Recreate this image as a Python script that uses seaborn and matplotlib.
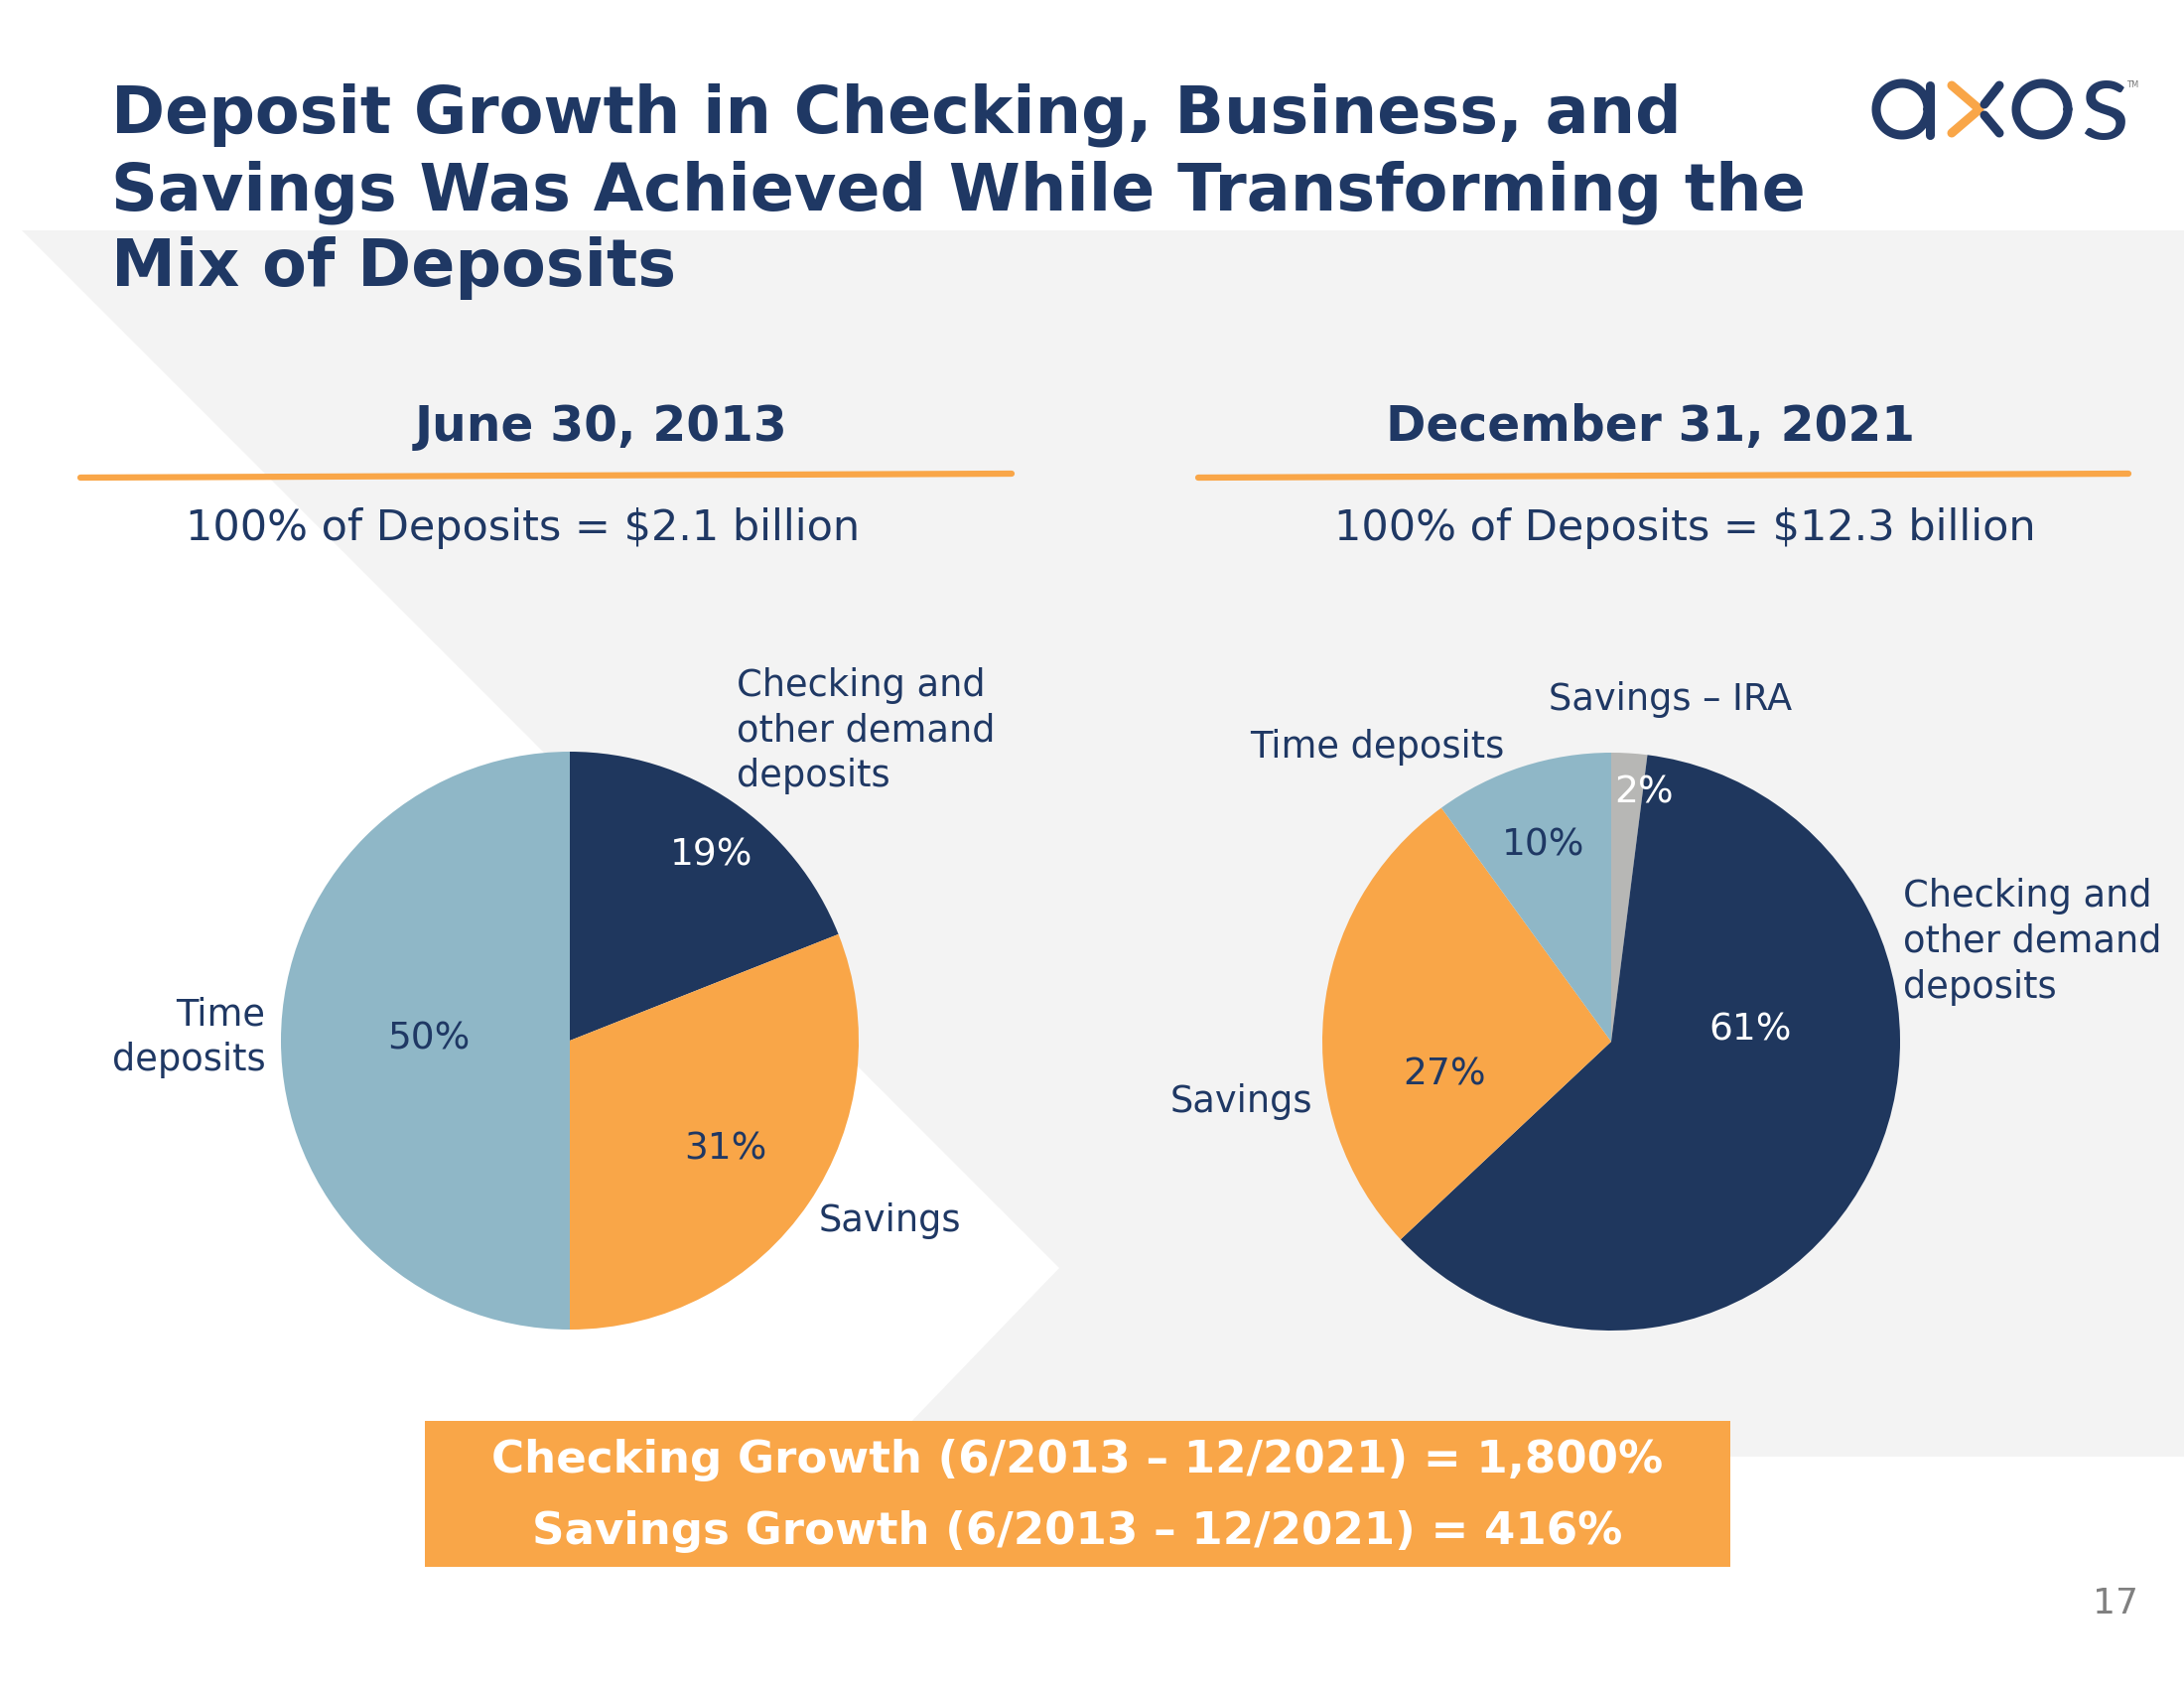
import matplotlib
matplotlib.use("Agg")
import matplotlib.pyplot as plt
import seaborn as sns
import numpy as np
from matplotlib.patches import Polygon, Rectangle
from matplotlib.lines import Line2D

sns.set_theme(style="white")
plt.rcParams['font.family'] = ['DejaVu Sans']

# ---------------- data ----------------
title = "Deposit Growth in Checking, Business, and\nSavings Was Achieved While Transforming the\nMix of Deposits"
left_header = "June 30, 2013"
right_header = "December 31, 2021"
left_total = "100% of Deposits = $2.1 billion"
right_total = "100% of Deposits = $12.3 billion"

left_categories = ["Checking and\nother demand\ndeposits", "Savings", "Time\ndeposits"]
left_values = [19, 31, 50]
right_categories = ["Savings – IRA", "Checking and\nother demand\ndeposits", "Savings", "Time deposits"]
right_values = [2, 61, 27, 10]
growth_lines = ["Checking Growth (6/2013 – 12/2021) = 1,800%",
                "Savings Growth (6/2013 – 12/2021) = 416%"]
page_number = "17"

# ---------------- style ----------------
NAVY = "#1F375E"
TEXT = "#1F3864"
ORANGE = "#F9A648"
LBLUE = "#8FB7C7"
GRAY = "#B7B7B5"
BG = "#F3F3F3"

left_colors = [NAVY, ORANGE, LBLUE]
right_colors = [GRAY, NAVY, ORANGE, LBLUE]
left_pct_colors = ["white", TEXT, TEXT]
right_pct_colors = ["white", "white", TEXT, TEXT]

# label placement (in units of pie radius) : (x, y, ha)
left_label_pos = [(0.577, 1.072, "left"), (0.861, -0.625, "left"), (-1.053, 0.01, "right")]
left_pct_pos = [(0.49, 0.64), (0.538, -0.375), (-0.49, 0.005)]
right_label_pos = [(-0.216, 1.183, "left"), (1.01, 0.346, "left"), (-1.034, -0.207, "right"), (-0.37, 1.019, "right")]
right_pct_pos = [(0.115, 0.861), (0.481, 0.038), (-0.577, -0.115), (-0.236, 0.678)]

W, H = 2200, 1700
fig = plt.figure(figsize=(22, 17), dpi=100)
fig.patch.set_facecolor("white")


def fx(x):
    return x / W


def fy(y):
    return 1 - y / H


# background shape
bg = Polygon([(fx(22), fy(232)), (fx(2200), fy(232)), (fx(2200), fy(1467)),
              (fx(884), fy(1467)), (fx(1067), fy(1277))],
             closed=True, transform=fig.transFigure, facecolor=BG, edgecolor="none", zorder=-5)
fig.add_artist(bg)

# title
fig.text(fx(112), fy(84), title, ha="left", va="top", fontsize=47, fontweight="bold",
         color=TEXT, linespacing=1.25)

# logo
logo_color = "#233A66"
lw_logo = 6.5
th = np.linspace(0, 2 * np.pi, 200)
for cx in (1916, 2057):
    fig.add_artist(Line2D(fx(cx + 26 * np.cos(th)), fy(110 + 26 * np.sin(th)),
                          color=logo_color, lw=lw_logo, transform=fig.transFigure))
fig.add_artist(Line2D([fx(1944), fx(1944)], [fy(86), fy(136)], color=logo_color, lw=lw_logo,
                      solid_capstyle="round", transform=fig.transFigure))
fig.add_artist(Line2D([fx(1966), fx(1994), fx(1966)], [fy(86), fy(110), fy(134)], color=ORANGE,
                      lw=lw_logo, solid_capstyle="round", transform=fig.transFigure))
fig.add_artist(Line2D([fx(2014), fx(1999)], [fy(86), fy(105)], color=logo_color, lw=lw_logo,
                      solid_capstyle="round", transform=fig.transFigure))
fig.add_artist(Line2D([fx(1999), fx(2014)], [fy(116), fy(134)], color=logo_color, lw=lw_logo,
                      solid_capstyle="round", transform=fig.transFigure))
fig.text(fx(2120), fy(108), "s", ha="center", va="center", fontsize=82, color=logo_color,
         family="Lato")
fig.text(fx(2142), fy(86), "TM", ha="left", va="center", fontsize=6, color="#777777")

# headers
for cx, txt in ((606, left_header), (1662, right_header)):
    fig.text(fx(cx), fy(430), txt, ha="center", va="center", fontsize=35, fontweight="bold", color=TEXT)
fig.add_artist(Line2D([fx(81), fx(1019)], [fy(481), fy(477)], color=ORANGE, lw=4.5,
                      transform=fig.transFigure))
fig.add_artist(Line2D([fx(1207), fx(2144)], [fy(481), fy(477)], color=ORANGE, lw=4.5,
                      transform=fig.transFigure))
fig.text(fx(527), fy(532), left_total, ha="center", va="center", fontsize=31, color=TEXT)
fig.text(fx(1697), fy(532), right_total, ha="center", va="center", fontsize=31, color=TEXT)

R = 291
S = 1.25
LABEL_FS = 26.5
PCT_FS = 27


def make_ax(cx, cy):
    half = R * S
    ax = fig.add_axes([fx(cx - half), fy(cy + half), 2 * half / W, 2 * half / H])
    ax.set_xlim(-S, S)
    ax.set_ylim(-S, S)
    ax.set_aspect("equal")
    ax.axis("off")
    ax.patch.set_alpha(0)
    return ax


def draw_pie(ax, values, colors, cats, label_pos, pct_pos, pct_colors):
    ax.pie(values, colors=colors, startangle=90, counterclock=False, radius=1,
           wedgeprops=dict(linewidth=0))
    for v, c, (px, py) in zip(values, pct_colors, pct_pos):
        ax.text(px, py, f"{v}%", ha="center", va="center", fontsize=PCT_FS, color=c)
    for cat, (lx, ly, ha) in zip(cats, label_pos):
        ax.text(lx, ly, cat, ha=ha, va="center", fontsize=LABEL_FS, color=TEXT,
                multialignment=ha, linespacing=1.3, clip_on=False)
    ax.set_xlim(-S, S)
    ax.set_ylim(-S, S)


axl = make_ax(574, 1048)
draw_pie(axl, left_values, left_colors, left_categories, left_label_pos, left_pct_pos, left_pct_colors)
axr = make_ax(1623, 1049)
draw_pie(axr, right_values, right_colors, right_categories, right_label_pos, right_pct_pos, right_pct_colors)

# growth box
fig.add_artist(Rectangle((fx(428), fy(1578)), (1743 - 428) / W, (1578 - 1431) / H,
                         transform=fig.transFigure, facecolor=ORANGE, edgecolor="none", zorder=1))
fig.text(fx(1085), fy(1471), growth_lines[0], ha="center", va="center", fontsize=32.5,
         fontweight="bold", color="white", zorder=2)
fig.text(fx(1085), fy(1542), growth_lines[1], ha="center", va="center", fontsize=32.5,
         fontweight="bold", color="white", zorder=2)

fig.text(fx(2131), fy(1615), page_number, ha="center", va="center", fontsize=26, color="#808080")

fig.savefig("out.png", dpi=100, facecolor="white")
